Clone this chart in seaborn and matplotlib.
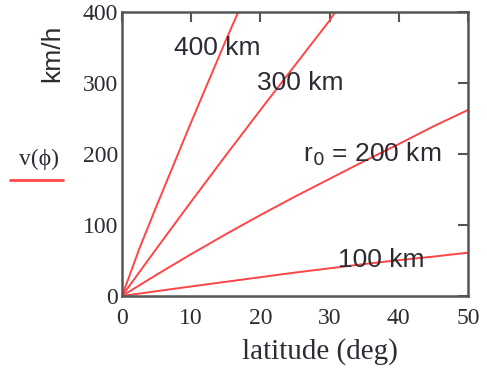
import numpy as np
import pandas as pd
import matplotlib
matplotlib.use("Agg")
import matplotlib.pyplot as plt
from matplotlib.lines import Line2D
import seaborn as sns

# values (latitude in deg, speed in km/h)
lat_100 = [0, 5, 10, 15, 20, 25, 30, 35, 40, 45, 50]
v_100 = [0, 6.8, 13.5, 20, 26.5, 33, 39, 45, 50.5, 55.5, 61]
lat_200 = [0, 5, 10, 15, 20, 25, 30, 35, 40, 45, 50]
v_200 = [0, 30, 59, 87, 114, 140, 165, 190, 214, 239, 262]
lat_300 = [0, 5, 10, 15, 20, 25, 30, 30.8]
v_300 = [0, 67, 133, 198, 262, 325, 388, 400]
lat_400 = [0, 2.6, 5, 10, 15, 16.8]
v_400 = [0, 69, 127, 245, 360, 400]

labels = ["100 km", "r$_0$ = 200 km", "300 km", "400 km"]
label_pos = [(37.4, 50.7), (36.2, 199), (25.7, 300), (13.7, 349)]

sns.set_style("white")
plt.rcParams['font.family'] = ['Liberation Serif', 'DejaVu Serif']

W, H = 487, 376
fig = plt.figure(figsize=(W / 100, H / 100), dpi=100)
ax = fig.add_axes([122 / W, 1 - 296 / H, 346 / W, 284 / H])

red = "#ff4545"
for xs, ys in [(lat_100, v_100), (lat_200, v_200), (lat_300, v_300), (lat_400, v_400)]:
    sns.lineplot(x=xs, y=ys, ax=ax, color=red, linewidth=1.4, sort=False)

ax.set_xlim(0, 50)
ax.set_ylim(0, 400)
ax.set_xticks([0, 10, 20, 30, 40, 50])
ax.set_yticks([0, 100, 200, 300, 400])

txt_col = "#2b2b33"
ax.tick_params(direction="in", length=7, width=1.5, color="#555555",
               top=True, right=True, labelsize=17, labelcolor=txt_col)
ax.tick_params(axis="x", pad=9)
ax.tick_params(axis="y", pad=3)
for s in ax.spines.values():
    s.set_color("#555555")
    s.set_linewidth(1.8)

for lab, (x, y) in zip(labels, label_pos):
    ax.text(x, y, lab, ha="center", va="center", fontsize=19, color=txt_col,
            family=["Liberation Sans", "DejaVu Sans"])

ax.set_xlabel("")
ax.set_ylabel("")
fig.text(320 / W, 1 - 352 / H, "latitude (deg)", ha="center", va="center",
         fontsize=21, color=txt_col)
fig.text(52 / W, 1 - 53 / H, "km/h", ha="center", va="center", rotation=90,
         fontsize=19, color=txt_col, family=["Liberation Sans", "DejaVu Sans"])

# legend-like label on the left
fig.text(39 / W, 1 - 159 / H, "v(ϕ)", ha="center", va="center",
         fontsize=17, color=txt_col)
fig.add_artist(Line2D([10 / W, 63 / W], [1 - 180 / H, 1 - 180 / H],
                      color=red, linewidth=2, transform=fig.transFigure))

fig.savefig("out.png", dpi=100)
